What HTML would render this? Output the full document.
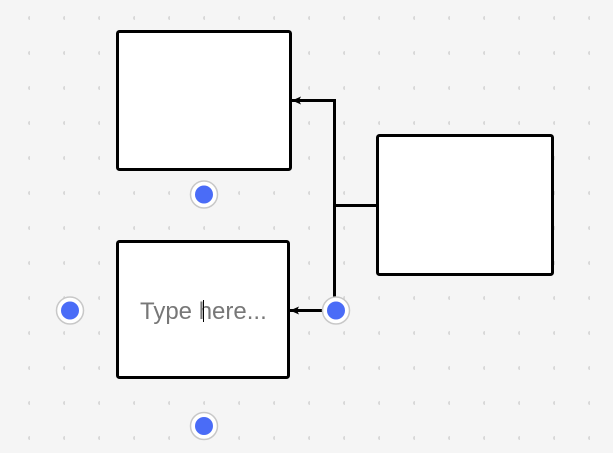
<!DOCTYPE html>
<html><head><meta charset="utf-8"><style>
html,body{margin:0;padding:0;width:613px;height:453px;overflow:hidden;background:#f5f5f5;}
</style></head><body>
<svg width="613" height="453" viewBox="0 0 613 453" xmlns="http://www.w3.org/2000/svg">
<defs>
<pattern id="dots" x="-5" y="0.5" width="35" height="35" patternUnits="userSpaceOnUse">
<circle cx="35" cy="17.5" r="2" fill="#d8d8d8"/>
</pattern>
<marker id="arr" markerWidth="10" markerHeight="10" refX="9" refY="5" orient="auto" markerUnits="userSpaceOnUse">
<path d="M0,1 L9,5 L0,9 L2,5 Z" fill="#000"/>
</marker>
</defs>
<rect width="613" height="453" fill="#f5f5f5"/>
<rect width="613" height="453" fill="url(#dots)"/>
<rect x="117.5" y="31.5" width="173" height="138" rx="2" fill="#fff" stroke="#000" stroke-width="3"/>
<rect x="117.5" y="241.5" width="171" height="136" rx="2" fill="#fff" stroke="#000" stroke-width="3"/>
<rect x="377.5" y="135.5" width="175" height="139" rx="2" fill="#fff" stroke="#000" stroke-width="3"/>
<path d="M377,205.5 L334.5,205.5" stroke="#000" stroke-width="3" fill="none"/>
<path d="M334.5,310 L334.5,100.5 L292,100.5" stroke="#000" stroke-width="3" fill="none" marker-end="url(#arr)"/>
<path d="M334.5,310.5 L290,310.5" stroke="#000" stroke-width="3" fill="none" marker-end="url(#arr)"/>
<text x="140" y="319" font-family="Liberation Sans, Arial, sans-serif" font-size="24" fill="#777">Type here...</text>
<line x1="203.5" y1="300" x2="203.5" y2="322" stroke="#000" stroke-width="1"/>
<g>
<circle cx="204" cy="194.5" r="13.5" fill="#fff" stroke="#c8c8c8" stroke-width="1.5"/><circle cx="204" cy="194.5" r="9" fill="#4a6cf7"/>
<circle cx="70" cy="310.5" r="13.5" fill="#fff" stroke="#c8c8c8" stroke-width="1.5"/><circle cx="70" cy="310.5" r="9" fill="#4a6cf7"/>
<circle cx="336" cy="310.5" r="13.5" fill="#fff" stroke="#c8c8c8" stroke-width="1.5"/><circle cx="336" cy="310.5" r="9" fill="#4a6cf7"/>
<circle cx="204" cy="426" r="13.5" fill="#fff" stroke="#c8c8c8" stroke-width="1.5"/><circle cx="204" cy="426" r="9" fill="#4a6cf7"/>
</g>
</svg>
</body></html>
